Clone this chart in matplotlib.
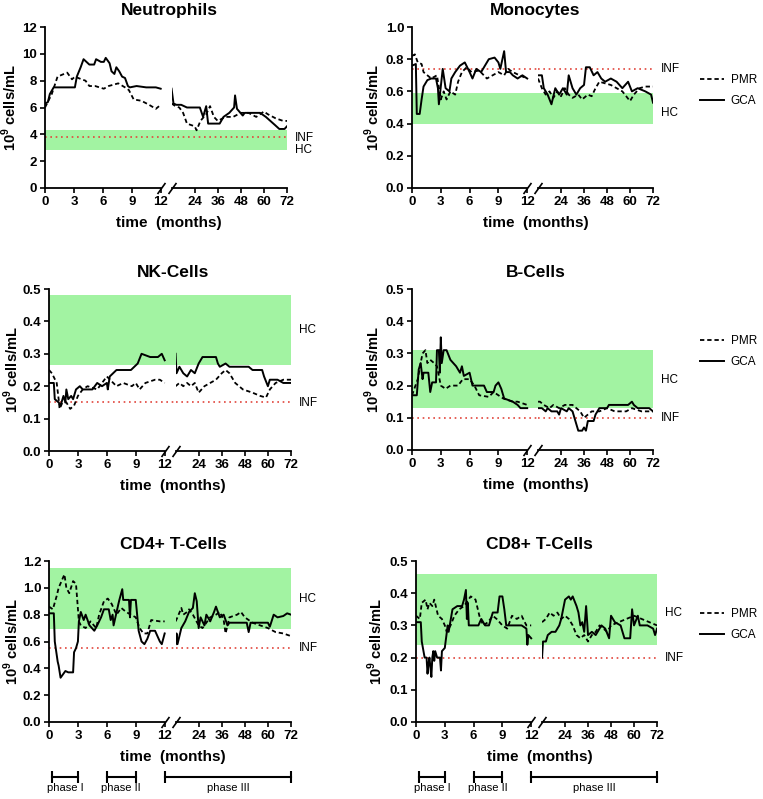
import numpy as np
import matplotlib
matplotlib.use('Agg')
import matplotlib.pyplot as plt
from matplotlib.lines import Line2D

plt.rcParams['font.family'] = ['Liberation Sans', 'DejaVu Sans']
plt.rcParams['mathtext.fontset'] = 'custom'
plt.rcParams['mathtext.rm'] = 'Liberation Sans'
plt.rcParams['mathtext.bf'] = 'Liberation Sans:bold'

# ---------------- data (time in months) ----------------
# Neutrophils
neut_gca_t1 = [0, 0.3, 0.5, 0.9, 3.1, 3.3, 3.7, 4.0, 4.3, 4.6, 5.1, 5.3, 5.8, 6.1, 6.3, 6.7, 6.9, 7.2, 7.4, 7.7, 8.0, 8.3, 8.6, 8.8, 9.5, 10.5, 11.5, 12.0]
neut_gca_v1 = [6.3, 6.4, 7.0, 7.5, 7.5, 8.3, 9.0, 9.6, 9.4, 9.2, 9.2, 9.6, 9.4, 9.4, 9.7, 9.3, 8.7, 8.5, 9.0, 8.7, 8.3, 8.2, 7.6, 7.5, 7.6, 7.5, 7.5, 7.4]
neut_gca_t2 = [12, 13, 14.5, 17, 20, 26.7, 28.4, 30, 31, 37, 39, 42, 44.5, 45, 46, 49, 50, 58, 61, 65.7, 68, 70.7, 72]
neut_gca_v2 = [7.4, 6.3, 6.2, 6.2, 6.0, 6.0, 5.3, 6.1, 4.8, 4.8, 5.3, 5.6, 6.0, 6.9, 5.9, 5.4, 5.6, 5.6, 5.3, 4.7, 4.4, 4.4, 4.6]
neut_pmr_t1 = [0, 0.7, 1.3, 2.3, 2.8, 3.1, 3.8, 4.2, 4.6, 5.2, 6.1, 6.6, 7.6, 8.3, 8.7, 9.2, 10, 10.8, 11.5, 12]
neut_pmr_v1 = [6.0, 7.0, 8.3, 8.6, 8.1, 8.3, 8.1, 8.0, 7.6, 7.6, 7.4, 7.6, 7.8, 7.5, 7.3, 6.6, 6.5, 6.2, 5.9, 6.2]
neut_pmr_t2 = [12, 14, 16, 18, 20, 24, 25, 27, 30, 32, 34, 36, 40, 44, 48, 52, 56, 60, 62, 66, 70, 72]
neut_pmr_v2 = [6.3, 6.1, 6.0, 5.6, 4.8, 4.6, 4.3, 5.0, 5.5, 6.1, 5.3, 5.0, 5.3, 5.3, 5.6, 5.6, 5.3, 5.7, 5.5, 5.2, 5.0, 5.0]

# Monocytes
mono_gca_t1 = [0, 0.4, 0.5, 0.8, 1.0, 1.2, 1.6, 2.0, 2.5, 2.7, 2.8, 3.2, 3.5, 3.9, 4.1, 4.5, 5.0, 5.5, 6.0, 6.3, 6.7, 7.2, 7.6, 8.0, 8.6, 9.0, 9.2, 9.6, 9.8, 10.2, 10.5, 11.0, 11.5, 12.0]
mono_gca_v1 = [0.76, 0.77, 0.46, 0.46, 0.55, 0.63, 0.67, 0.68, 0.68, 0.62, 0.52, 0.74, 0.62, 0.60, 0.68, 0.72, 0.76, 0.78, 0.72, 0.68, 0.74, 0.72, 0.76, 0.80, 0.81, 0.78, 0.74, 0.85, 0.72, 0.72, 0.70, 0.68, 0.70, 0.68]
mono_gca_t2 = [12, 14, 15, 17, 19, 21, 23, 25, 27, 28, 30, 32, 34, 36, 37, 39, 41, 43, 45, 47, 50, 53, 56, 59, 61, 64, 68, 71, 72]
mono_gca_v2 = [0.70, 0.70, 0.62, 0.58, 0.52, 0.62, 0.58, 0.62, 0.58, 0.70, 0.62, 0.58, 0.62, 0.64, 0.75, 0.75, 0.70, 0.72, 0.68, 0.66, 0.68, 0.66, 0.62, 0.66, 0.60, 0.62, 0.60, 0.58, 0.53]
mono_pmr_t1 = [0, 0.3, 0.6, 1.0, 1.2, 1.6, 2.0, 2.6, 3.0, 3.3, 3.6, 4.0, 4.5, 4.8, 5.2, 5.7, 6.2, 7.0, 7.8, 8.4, 9.0, 9.6, 10.0, 10.5, 11.2, 12.0]
mono_pmr_v1 = [0.82, 0.83, 0.78, 0.77, 0.72, 0.70, 0.68, 0.70, 0.55, 0.60, 0.55, 0.60, 0.58, 0.66, 0.72, 0.75, 0.72, 0.73, 0.68, 0.70, 0.72, 0.70, 0.74, 0.72, 0.70, 0.68]
mono_pmr_t2 = [12, 14, 16, 18, 20, 22, 24, 26, 28, 30, 33, 35, 38, 40, 42, 44, 47, 50, 53, 56, 58, 60, 62, 65, 68, 72]
mono_pmr_v2 = [0.68, 0.62, 0.58, 0.60, 0.56, 0.60, 0.57, 0.62, 0.58, 0.56, 0.58, 0.55, 0.58, 0.57, 0.62, 0.66, 0.65, 0.64, 0.62, 0.60, 0.57, 0.54, 0.58, 0.62, 0.63, 0.63]

# NK-Cells
nk_gca_t1 = [0, 0.5, 0.6, 1.0, 1.2, 1.5, 1.7, 1.8, 2.0, 2.3, 2.5, 2.8, 3.2, 3.5, 4.5, 5.0, 5.5, 6.0, 6.1, 6.3, 7.0, 8.5, 9.2, 9.6, 10.5, 11.3, 11.7, 12.0]
nk_gca_v1 = [0.21, 0.21, 0.16, 0.15, 0.14, 0.17, 0.15, 0.19, 0.16, 0.17, 0.16, 0.19, 0.20, 0.19, 0.19, 0.21, 0.20, 0.21, 0.19, 0.23, 0.25, 0.25, 0.27, 0.30, 0.29, 0.29, 0.30, 0.28]
nk_gca_t2 = [12, 12.5, 14, 16, 18, 20, 22, 24, 26, 33, 34, 35, 38, 40, 50, 52, 57, 58, 60, 61, 65, 68, 72]
nk_gca_v2 = [0.30, 0.24, 0.26, 0.24, 0.23, 0.25, 0.24, 0.27, 0.29, 0.29, 0.27, 0.26, 0.27, 0.26, 0.26, 0.25, 0.25, 0.23, 0.20, 0.22, 0.22, 0.21, 0.21]
nk_pmr_t1 = [0, 0.3, 0.8, 1.0, 1.1, 1.4, 1.8, 2.2, 2.6, 3.0, 3.5, 4.0, 5.0, 5.5, 6.0, 7.0, 7.7, 8.6, 9.0, 9.4, 10.0, 11.0, 11.5, 12.0]
nk_pmr_v1 = [0.25, 0.24, 0.21, 0.16, 0.13, 0.15, 0.15, 0.13, 0.14, 0.17, 0.19, 0.20, 0.19, 0.21, 0.23, 0.20, 0.21, 0.20, 0.21, 0.19, 0.21, 0.22, 0.22, 0.21]
nk_pmr_t2 = [12, 14, 16, 18, 20, 22, 24, 27, 30, 33, 36, 38, 40, 43, 47, 52, 56, 59, 61, 64, 68, 72]
nk_pmr_v2 = [0.20, 0.21, 0.20, 0.21, 0.20, 0.21, 0.18, 0.20, 0.21, 0.22, 0.24, 0.25, 0.24, 0.21, 0.19, 0.18, 0.17, 0.165, 0.19, 0.21, 0.22, 0.22]

# B-Cells
b_gca_t1 = [0, 0.5, 0.6, 0.7, 0.9, 1.1, 1.2, 1.7, 1.9, 2.1, 2.5, 2.6, 2.8, 2.9, 3.0, 3.1, 3.3, 3.6, 4.0, 4.6, 5.0, 5.2, 5.4, 6.0, 6.3, 7.5, 7.8, 8.5, 8.7, 9.0, 9.3, 9.6, 10.5, 11.0, 11.3, 12.0]
b_gca_v1 = [0.17, 0.17, 0.21, 0.25, 0.27, 0.22, 0.24, 0.24, 0.18, 0.21, 0.21, 0.31, 0.31, 0.24, 0.35, 0.27, 0.31, 0.31, 0.28, 0.26, 0.24, 0.26, 0.23, 0.24, 0.20, 0.20, 0.18, 0.18, 0.20, 0.21, 0.19, 0.16, 0.15, 0.14, 0.13, 0.13]
b_gca_t2 = [12, 14, 16, 17, 19, 22, 23, 24, 27, 28, 30, 31, 32, 33, 35, 36, 37, 38, 41, 42, 44, 48, 49, 59, 61, 62, 64, 70, 72]
b_gca_v2 = [0.13, 0.13, 0.12, 0.13, 0.12, 0.12, 0.11, 0.13, 0.12, 0.13, 0.12, 0.10, 0.08, 0.06, 0.06, 0.07, 0.06, 0.09, 0.09, 0.11, 0.13, 0.13, 0.14, 0.14, 0.15, 0.14, 0.13, 0.13, 0.12]
b_pmr_t1 = [0, 0.6, 0.9, 1.1, 1.4, 1.6, 1.9, 2.3, 2.6, 3.0, 3.5, 4.0, 4.8, 5.3, 6.0, 6.5, 7.0, 8.0, 8.5, 9.0, 9.5, 10.5, 11.0, 12.0]
b_pmr_v1 = [0.17, 0.22, 0.27, 0.30, 0.31, 0.27, 0.28, 0.27, 0.26, 0.20, 0.19, 0.20, 0.20, 0.22, 0.22, 0.20, 0.17, 0.165, 0.18, 0.17, 0.16, 0.15, 0.15, 0.14]
b_pmr_t2 = [12, 13, 15, 18, 20, 23, 26, 30, 32, 34, 36, 38, 40, 44, 48, 52, 58, 61, 66, 72]
b_pmr_v2 = [0.15, 0.15, 0.14, 0.13, 0.14, 0.13, 0.14, 0.14, 0.13, 0.12, 0.10, 0.11, 0.12, 0.12, 0.13, 0.12, 0.12, 0.13, 0.12, 0.12]

# CD4+ T-Cells
cd4_gca_t1 = [0, 0.5, 0.6, 0.7, 0.9, 1.0, 1.2, 1.5, 1.7, 2.0, 2.5, 2.6, 2.8, 3.0, 3.1, 3.3, 3.6, 3.8, 4.2, 4.7, 5.0, 5.4, 5.7, 6.2, 6.4, 6.6, 6.7, 7.2, 7.3, 7.6, 7.7, 8.3, 8.4, 8.5, 9.0, 9.3, 9.6, 9.9, 10.2, 10.5, 11.0, 11.5, 11.7, 12.0]
cd4_gca_v1 = [0.81, 0.81, 0.60, 0.55, 0.45, 0.42, 0.33, 0.36, 0.38, 0.37, 0.37, 0.52, 0.55, 0.60, 0.75, 0.82, 0.76, 0.80, 0.72, 0.68, 0.72, 0.78, 0.84, 0.84, 0.76, 0.80, 0.72, 0.88, 0.91, 0.99, 0.91, 0.91, 0.78, 0.91, 0.91, 0.68, 0.60, 0.58, 0.62, 0.68, 0.68, 0.60, 0.58, 0.66]
cd4_gca_t2 = [12, 12.5, 13, 14, 15, 17, 19, 21, 22, 23, 24, 25, 27, 28, 30, 32, 33, 35, 37, 39, 40, 49, 50, 51, 60, 61, 63, 65, 68, 70, 72]
cd4_gca_v2 = [0.58, 0.66, 0.58, 0.64, 0.70, 0.75, 0.82, 0.85, 0.96, 0.90, 0.70, 0.78, 0.72, 0.80, 0.75, 0.82, 0.86, 0.78, 0.80, 0.72, 0.74, 0.74, 0.67, 0.74, 0.74, 0.71, 0.80, 0.78, 0.79, 0.81, 0.80]
cd4_pmr_t1 = [0, 0.4, 0.8, 1.0, 1.3, 1.6, 1.8, 2.1, 2.5, 2.8, 3.1, 3.3, 3.8, 4.3, 4.9, 5.2, 5.7, 6.1, 6.5, 7.0, 7.5, 8.0, 8.5, 9.0, 9.4, 9.8, 10.2, 10.6, 11.5, 12.0]
cd4_pmr_v1 = [0.86, 0.84, 0.94, 1.00, 1.05, 1.10, 1.00, 0.96, 1.05, 1.03, 0.75, 0.72, 0.70, 0.75, 0.70, 0.80, 0.90, 0.92, 0.88, 0.80, 0.85, 0.82, 0.80, 0.78, 0.70, 0.66, 0.66, 0.76, 0.75, 0.75]
cd4_pmr_t2 = [12, 13, 15, 16, 18, 19, 21, 24, 26, 28, 30, 33, 35, 37, 38, 40, 44, 46, 48, 52, 56, 60, 64, 68, 72]
cd4_pmr_v2 = [0.75, 0.78, 0.85, 0.80, 0.82, 0.84, 0.80, 0.72, 0.70, 0.74, 0.78, 0.80, 0.82, 0.76, 0.66, 0.78, 0.80, 0.82, 0.78, 0.74, 0.72, 0.70, 0.67, 0.66, 0.64]

# CD8+ T-Cells
cd8_gca_t1 = [0, 0.5, 0.6, 0.9, 1.1, 1.2, 1.3, 1.4, 1.5, 1.6, 1.7, 1.8, 1.9, 2.0, 2.2, 2.5, 2.6, 2.7, 3.0, 3.3, 3.4, 3.8, 4.3, 4.8, 5.0, 5.2, 5.3, 5.4, 5.5, 6.5, 6.8, 7.2, 7.6, 8.0, 8.5, 8.7, 9.0, 9.2, 9.4, 10.5, 11.0, 11.5, 11.6, 11.7, 12.0]
cd8_gca_v1 = [0.31, 0.31, 0.25, 0.20, 0.20, 0.15, 0.18, 0.20, 0.17, 0.14, 0.20, 0.22, 0.19, 0.22, 0.20, 0.20, 0.16, 0.22, 0.23, 0.30, 0.28, 0.35, 0.36, 0.36, 0.38, 0.41, 0.32, 0.37, 0.30, 0.30, 0.32, 0.30, 0.30, 0.34, 0.34, 0.39, 0.39, 0.35, 0.30, 0.30, 0.30, 0.29, 0.24, 0.27, 0.26]
cd8_gca_t2 = [12, 12.5, 14, 15, 17, 19, 20, 21, 22, 23, 24, 26, 27, 28, 30, 31, 32, 33, 34, 35, 36, 38, 40, 42, 43, 45, 47, 48, 50, 53, 55, 58, 59, 60, 62, 63, 67, 70, 71, 72]
cd8_gca_v2 = [0.20, 0.25, 0.25, 0.27, 0.28, 0.28, 0.29, 0.30, 0.32, 0.35, 0.38, 0.39, 0.38, 0.39, 0.36, 0.34, 0.30, 0.31, 0.28, 0.36, 0.27, 0.28, 0.27, 0.29, 0.30, 0.29, 0.26, 0.33, 0.31, 0.30, 0.26, 0.26, 0.35, 0.30, 0.33, 0.30, 0.30, 0.29, 0.27, 0.29]
cd8_pmr_t1 = [0, 0.4, 0.6, 1.0, 1.2, 1.4, 1.7, 1.9, 2.3, 2.7, 3.0, 3.2, 3.6, 4.0, 4.5, 5.0, 5.7, 6.2, 6.6, 7.0, 7.5, 8.0, 8.4, 9.0, 9.5, 10.0, 10.5, 11.0, 11.5, 12.0]
cd8_pmr_v1 = [0.33, 0.32, 0.37, 0.38, 0.35, 0.37, 0.36, 0.38, 0.33, 0.32, 0.30, 0.28, 0.30, 0.33, 0.35, 0.36, 0.39, 0.38, 0.33, 0.30, 0.31, 0.33, 0.32, 0.30, 0.29, 0.33, 0.32, 0.33, 0.30, 0.30]
cd8_pmr_t2 = [12, 14, 16, 18, 20, 22, 24, 26, 28, 30, 32, 34, 36, 38, 40, 42, 44, 46, 48, 52, 56, 60, 64, 68, 72]
cd8_pmr_v2 = [0.31, 0.32, 0.34, 0.33, 0.34, 0.32, 0.33, 0.32, 0.30, 0.27, 0.26, 0.27, 0.25, 0.27, 0.28, 0.30, 0.29, 0.28, 0.30, 0.31, 0.32, 0.33, 0.32, 0.31, 0.30]

# reference ranges: healthy controls (band) and inflammation level (dotted)
titles = ['Neutrophils', 'Monocytes', 'NK-Cells', 'B-Cells', 'CD4+ T-Cells', 'CD8+ T-Cells']
hc_ranges = [(2.8, 4.3), (0.40, 0.59), (0.265, 0.48), (0.13, 0.31), (0.69, 1.15), (0.24, 0.46)]
inf_levels = [3.8, 0.74, 0.15, 0.10, 0.55, 0.20]
y_max = [12, 1.0, 0.5, 0.5, 1.2, 0.5]
y_step = [2, 0.2, 0.1, 0.1, 0.2, 0.1]
phases = [('phase I', 0.3, 3), ('phase II', 6, 9), ('phase III', 12, 72)]

GREEN = '#a2f3a2'
RED = '#e2453c'

W, H = 763, 799
fig = plt.figure(figsize=(W / 100, H / 100), dpi=100)


def fx(px):
    return px / W


def fy(py):
    return 1 - py / H


def draw_panel(i, x0, x72, top, bottom, gca, pmr, hc_lab, inf_lab, ylab_x,
               legend_y=None, phase_y=None):
    total = x72 - x0
    f1, gap = 0.478, 0.045
    h = (bottom - top) / H
    ax1 = fig.add_axes([fx(x0), fy(bottom), fx((f1 + gap) * total), h])
    ax2 = fig.add_axes([fx(x0 + (f1 + gap) * total), fy(bottom), fx((1 - f1 - gap) * total), h])
    ax1.set_xlim(0, 12 * (f1 + gap) / f1)
    ax2.set_xlim(12, 72)
    for ax in (ax1, ax2):
        ax.set_ylim(0, y_max[i])
        ax.axhspan(hc_ranges[i][0], hc_ranges[i][1], color=GREEN, lw=0, zorder=0)
        ax.axhline(inf_levels[i], color=RED, ls=(0, (1, 2.2)), lw=1.2, zorder=1)
        ax.spines['top'].set_visible(False)
        ax.spines['right'].set_visible(False)
        for s in ax.spines.values():
            s.set_linewidth(1.3)
        ax.tick_params(direction='out', length=3.5, width=1.2, labelsize=9.5, pad=2)
    ax2.spines['left'].set_visible(False)
    ax2.tick_params(axis='y', left=False, labelleft=False)
    ax1.spines['bottom'].set_bounds(0, 12)

    ax1.set_xticks([0, 3, 6, 9, 12])
    ax2.set_xticks([24, 36, 48, 60, 72])
    yt = np.arange(0, y_max[i] + y_step[i] / 2, y_step[i])
    ax1.set_yticks(yt)
    if y_step[i] >= 1:
        ax1.set_yticklabels(['%d' % v for v in yt])
    else:
        ax1.set_yticklabels(['%.1f' % v for v in yt])
    for ax in (ax1, ax2):
        for lab in ax.get_xticklabels() + ax.get_yticklabels():
            lab.set_fontweight('bold')

    # series
    ax1.plot(pmr[0], pmr[1], color='k', lw=1.3, ls=(0, (2.4, 1.6)), zorder=3)
    ax2.plot(pmr[2], pmr[3], color='k', lw=1.3, ls=(0, (2.4, 1.6)), zorder=3, label='PMR')
    ax1.plot(gca[0], gca[1], color='k', lw=1.4, zorder=4)
    ax2.plot(gca[2], gca[3], color='k', lw=1.4, zorder=4, label='GCA')

    # axis break marks
    for ax in (ax1, ax2):
        ax.plot([12], [0], marker=[(-1, -1.4), (1, 1.4)], markersize=8, mec='k',
                mew=1.2, ls='none', clip_on=False, zorder=6)

    ax2.annotate('HC', xy=(1, hc_lab), xycoords=('axes fraction', 'data'),
                 xytext=(6, 0), textcoords='offset points', va='center', ha='left', fontsize=8.5)
    ax2.annotate('INF', xy=(1, inf_lab), xycoords=('axes fraction', 'data'),
                 xytext=(6, 0), textcoords='offset points', va='center', ha='left', fontsize=8.5)

    # ylabel: coordinate marks the right-hand edge of the rotated text
    ax1.set_ylabel('10$^{\\mathbf{9}}$ cells/mL', fontsize=10.5, fontweight='bold')
    ax1.yaxis.set_label_coords(-(x0 - ylab_x) / ((f1 + gap) * total), 0.5)

    cx = (x0 + x72) / 2 + 3
    fig.text(fx(cx), fy(top - 12), titles[i], ha='center', va='baseline',
             fontsize=12.5, fontweight='bold')
    fig.text(fx(cx), fy(bottom + 35), 'time  (months)', ha='center', va='center',
             fontsize=11, fontweight='bold')

    if legend_y is not None:
        ax2.legend(loc='upper left', bbox_to_anchor=(fx(700), fy(legend_y)),
                   bbox_transform=fig.transFigure, frameon=False, fontsize=8.5,
                   handlelength=2.0, handletextpad=0.6, labelspacing=0.75,
                   borderpad=0, borderaxespad=0)

    if phase_y is not None:
        inv = fig.transFigure.inverted()
        for name, t0, t1 in phases:
            a0 = ax1 if t0 <= 12 else ax2
            a1 = ax1 if t1 <= 12 else ax2
            xa = inv.transform(a0.transData.transform((t0, 0)))[0]
            xb = inv.transform(a1.transData.transform((t1, 0)))[0]
            fig.add_artist(Line2D([xa, xb], [fy(phase_y), fy(phase_y)], color='k', lw=1.5,
                                  marker='|', markersize=9, mew=1.5))
            fig.text((xa + xb) / 2, fy(phase_y + 11), name, ha='center', va='center', fontsize=8)


draw_panel(0, 45, 287, 27, 188,
           (neut_gca_t1, neut_gca_v1, neut_gca_t2, neut_gca_v2),
           (neut_pmr_t1, neut_pmr_v1, neut_pmr_t2, neut_pmr_v2), 2.85, 3.75, 19)
draw_panel(1, 412, 653, 27, 188,
           (mono_gca_t1, mono_gca_v1, mono_gca_t2, mono_gca_v2),
           (mono_pmr_t1, mono_pmr_v1, mono_pmr_t2, mono_pmr_v2), 0.465, 0.74, 382, legend_y=74)
draw_panel(2, 49, 291, 289, 451,
           (nk_gca_t1, nk_gca_v1, nk_gca_t2, nk_gca_v2),
           (nk_pmr_t1, nk_pmr_v1, nk_pmr_t2, nk_pmr_v2), 0.373, 0.148, 21)
draw_panel(3, 412, 653, 289, 450,
           (b_gca_t1, b_gca_v1, b_gca_t2, b_gca_v2),
           (b_pmr_t1, b_pmr_v1, b_pmr_t2, b_pmr_v2), 0.216, 0.10, 382, legend_y=335)
draw_panel(4, 49, 291, 561, 722,
           (cd4_gca_t1, cd4_gca_v1, cd4_gca_t2, cd4_gca_v2),
           (cd4_pmr_t1, cd4_pmr_v1, cd4_pmr_t2, cd4_pmr_v2), 0.92, 0.55, 21, phase_y=777)
draw_panel(5, 416, 657, 561, 722,
           (cd8_gca_t1, cd8_gca_v1, cd8_gca_t2, cd8_gca_v2),
           (cd8_pmr_t1, cd8_pmr_v1, cd8_pmr_t2, cd8_pmr_v2), 0.338, 0.20, 385,
           legend_y=608, phase_y=777)

fig.savefig('out.png', dpi=100)
